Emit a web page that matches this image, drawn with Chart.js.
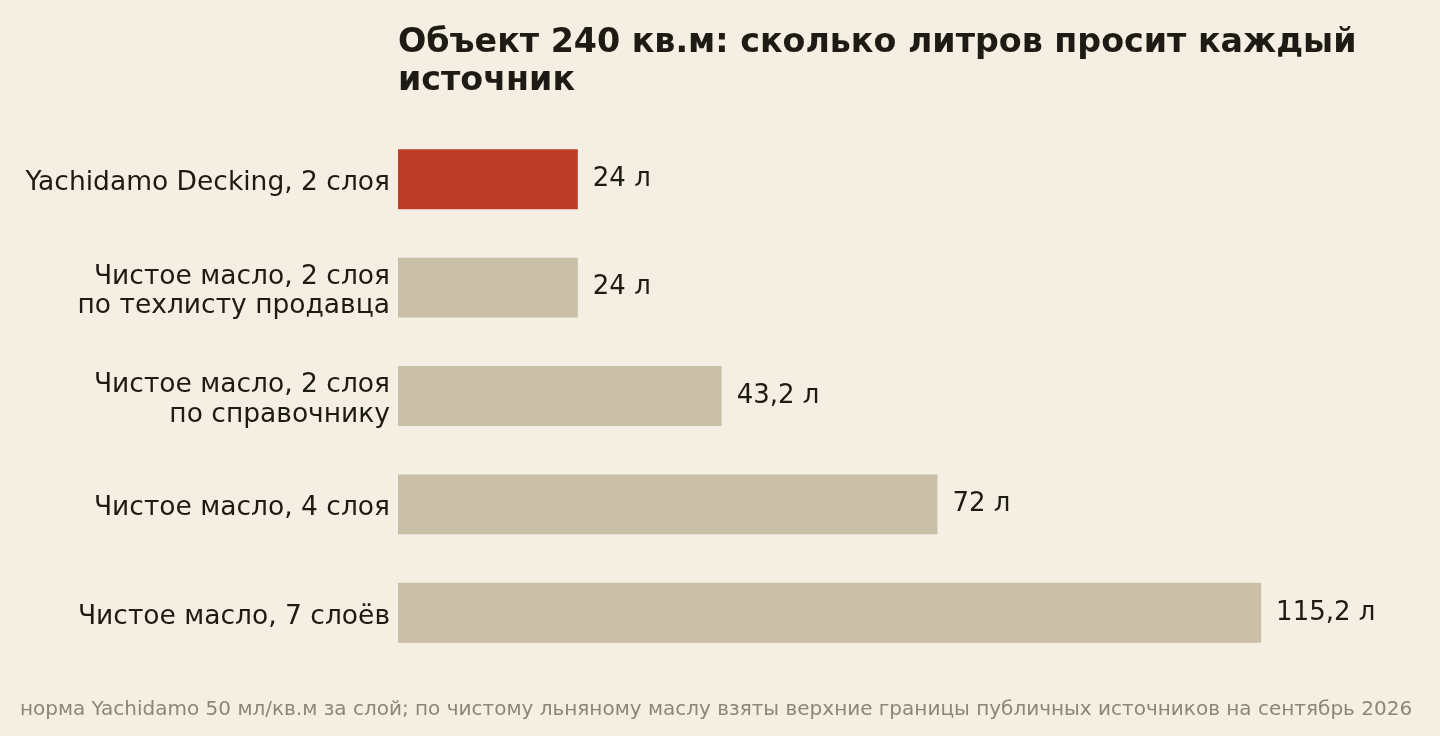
<!DOCTYPE html>
<html lang="ru">
<head>
<meta charset="utf-8">
<script src="https://cdn.jsdelivr.net/npm/chart.js@4.4.1/dist/chart.umd.min.js"></script>
<style>
  html, body { margin: 0; padding: 0; background: #f5efe3; }
  #wrap { width: 1440px; height: 736px; position: relative; }
</style>
</head>
<body>
<div id="wrap"><canvas id="chart"></canvas></div>
<script>
// data
const categories = [
    "Yachidamo Decking, 2 слоя",
    ["Чистое масло, 2 слоя", "по техлисту продавца"],
    ["Чистое масло, 2 слоя", "по справочнику"],
    "Чистое масло, 4 слоя",
    "Чистое масло, 7 слоёв"
];
const litres = [24, 24, 43.2, 72, 115.2];
const valueLabels = ["24 л", "24 л", "43,2 л", "72 л", "115,2 л"];
const barColors = ["#bc3d28", "#c9bfa7", "#c9bfa7", "#c9bfa7", "#c9bfa7"];

const titleLines = ["Объект 240 кв.м: сколько литров просит каждый", "источник"];
const footnote = "норма Yachidamo 50 мл/кв.м за слой; по чистому льняному маслу взяты верхние границы публичных источников на сентябрь 2026";

const FONT = "'DejaVu Sans', sans-serif";
const INK = "#1e1a14";

// title above the plot, footnote below, value labels at bar ends
const extras = {
    id: 'extras',
    afterDatasetsDraw(chart) {
        const ctx = chart.ctx;
        const area = chart.chartArea;
        ctx.save();
        ctx.fillStyle = INK;
        ctx.font = "bold 33.3px " + FONT;
        ctx.textAlign = 'left';
        ctx.textBaseline = 'alphabetic';
        titleLines.forEach((t, i) => ctx.fillText(t, area.left, 52 + i * 38));

        ctx.font = "26px " + FONT;
        ctx.textBaseline = 'middle';
        const meta = chart.getDatasetMeta(0);
        meta.data.forEach((bar, i) => {
            ctx.fillText(valueLabels[i], bar.x + 15, bar.y);
        });

        ctx.fillStyle = "#8c8578";
        ctx.font = "20px " + FONT;
        ctx.textAlign = 'center';
        ctx.textBaseline = 'alphabetic';
        ctx.fillText(footnote, 716, 715);
        ctx.restore();
    }
};

const chart = new Chart(document.getElementById('chart'), {
    type: 'bar',
    data: {
        labels: categories,
        datasets: [{
            data: litres,
            backgroundColor: barColors,
            borderWidth: 0,
            barPercentage: 1,
            categoryPercentage: 0.553
        }]
    },
    options: {
        indexAxis: 'y',
        responsive: true,
        maintainAspectRatio: false,
        animation: false,
        layout: { padding: { top: 125, bottom: 69, right: 68, left: 0 } },
        plugins: {
            legend: { display: false },
            tooltip: { enabled: false }
        },
        scales: {
            x: {
                min: 0,
                max: 130,
                display: false,
                grid: { display: false }
            },
            y: {
                afterFit(scale) { scale.width = 398; },
                grid: { display: false },
                border: { display: false },
                ticks: {
                    color: INK,
                    padding: 0,
                    labelOffset: 4,
                    font: { family: FONT, size: 26.5, lineHeight: 1.13 }
                }
            }
        }
    },
    plugins: [extras]
});
</script>
</body>
</html>
